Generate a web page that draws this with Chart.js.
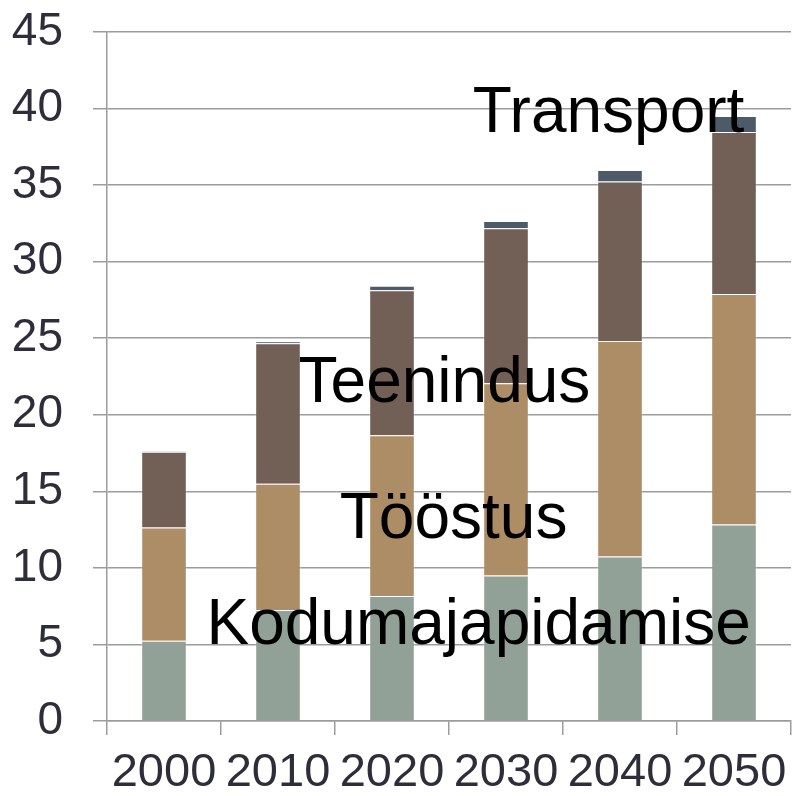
<!DOCTYPE html>
<html>
<head>
<meta charset="utf-8">
<script src="https://cdn.jsdelivr.net/npm/chart.js@4"></script>
<style>
  html, body { margin: 0; padding: 0; background: #fff; }
  #wrap { width: 792px; height: 796px; }
</style>
</head>
<body>
<div id="wrap"><canvas id="chart" width="792" height="796"></canvas></div>
<script>
// データ
const years = ['2000', '2010', '2020', '2030', '2040', '2050'];
const kodumajapidamise = [5.24, 7.25, 8.16, 9.51, 10.75, 12.84];
const toostus = [7.40, 8.24, 10.51, 12.55, 14.07, 15.05];
const teenindus = [4.94, 9.18, 9.46, 10.12, 10.41, 10.58];
const transport = [0.03, 0.13, 0.30, 0.48, 0.76, 1.04];
const yTicks = [0, 5, 10, 15, 20, 25, 30, 35, 40, 45];

// 系列ラベル（カテゴリ位置, 値）
const seriesLabels = [
    { text: 'Transport', x: 3.90, y: 38.47 },
    { text: 'Teenindus', x: 2.46, y: 20.84 },
    { text: 'Tööstus', x: 2.54, y: 11.92 },
    { text: 'Kodumajapidamise', x: 2.76, y: 5.0 }
];

const FONT = '"Liberation Sans", Arial, sans-serif';
const GRID = '#9c9c9c';

// ラベル描画プラグイン
const labelPlugin = {
    id: 'seriesLabels',
    afterDatasetsDraw(chart) {
        const { ctx, scales } = chart;
        ctx.save();
        ctx.font = '64px ' + FONT;
        ctx.fillStyle = '#000';
        ctx.textAlign = 'center';
        ctx.textBaseline = 'alphabetic';
        seriesLabels.forEach(l => {
            const x = scales.x.getPixelForValue(l.x);
            const y = scales.y.getPixelForValue(l.y);
            ctx.fillText(l.text, x, y);
        });
        ctx.restore();
    }
};

function dataset(label, data, color) {
    return {
        label: label,
        data: data,
        backgroundColor: color,
        borderColor: 'rgba(255,255,255,0.2)',
        borderWidth: 1,
        categoryPercentage: 1,
        barPercentage: 0.4
    };
}

new Chart(document.getElementById('chart').getContext('2d'), {
    type: 'bar',
    data: {
        labels: years,
        datasets: [
            dataset('Kodumajapidamise', kodumajapidamise, '#92a197'),
            dataset('Tööstus', toostus, '#ac8d66'),
            dataset('Teenindus', teenindus, '#725f55'),
            dataset('Transport', transport, '#4d5a6a')
        ]
    },
    options: {
        responsive: false,
        animation: false,
        layout: { padding: { top: 32, right: 1, left: 0, bottom: 0 } },
        plugins: {
            legend: { display: false },
            tooltip: { enabled: false }
        },
        scales: {
            x: {
                stacked: true,
                offset: true,
                grid: {
                    offset: true,
                    drawOnChartArea: false,
                    color: GRID,
                    lineWidth: 1.5,
                    tickLength: 14
                },
                border: { color: GRID, width: 1.5 },
                ticks: {
                    font: { family: FONT, size: 47 },
                    color: '#2e2e3a',
                    padding: 10,
                    maxRotation: 0,
                    autoSkip: false
                },
                afterFit(scale) {
                    scale.height = 75;
                    scale.paddingLeft = 0;
                    scale.paddingRight = 0;
                }
            },
            y: {
                stacked: true,
                min: 0,
                max: 45,
                afterBuildTicks(scale) {
                    scale.ticks = yTicks.map(v => ({ value: v }));
                },
                grid: {
                    color: GRID,
                    lineWidth: 1.5,
                    tickLength: 14
                },
                border: { color: GRID, width: 1.5 },
                ticks: {
                    font: { family: FONT, size: 46 },
                    color: '#2e2e3a',
                    padding: 30
                },
                afterFit(scale) {
                    scale.width = 107;
                    scale.paddingTop = 0;
                    scale.paddingBottom = 0;
                }
            }
        }
    },
    plugins: [labelPlugin]
});
</script>
</body>
</html>
